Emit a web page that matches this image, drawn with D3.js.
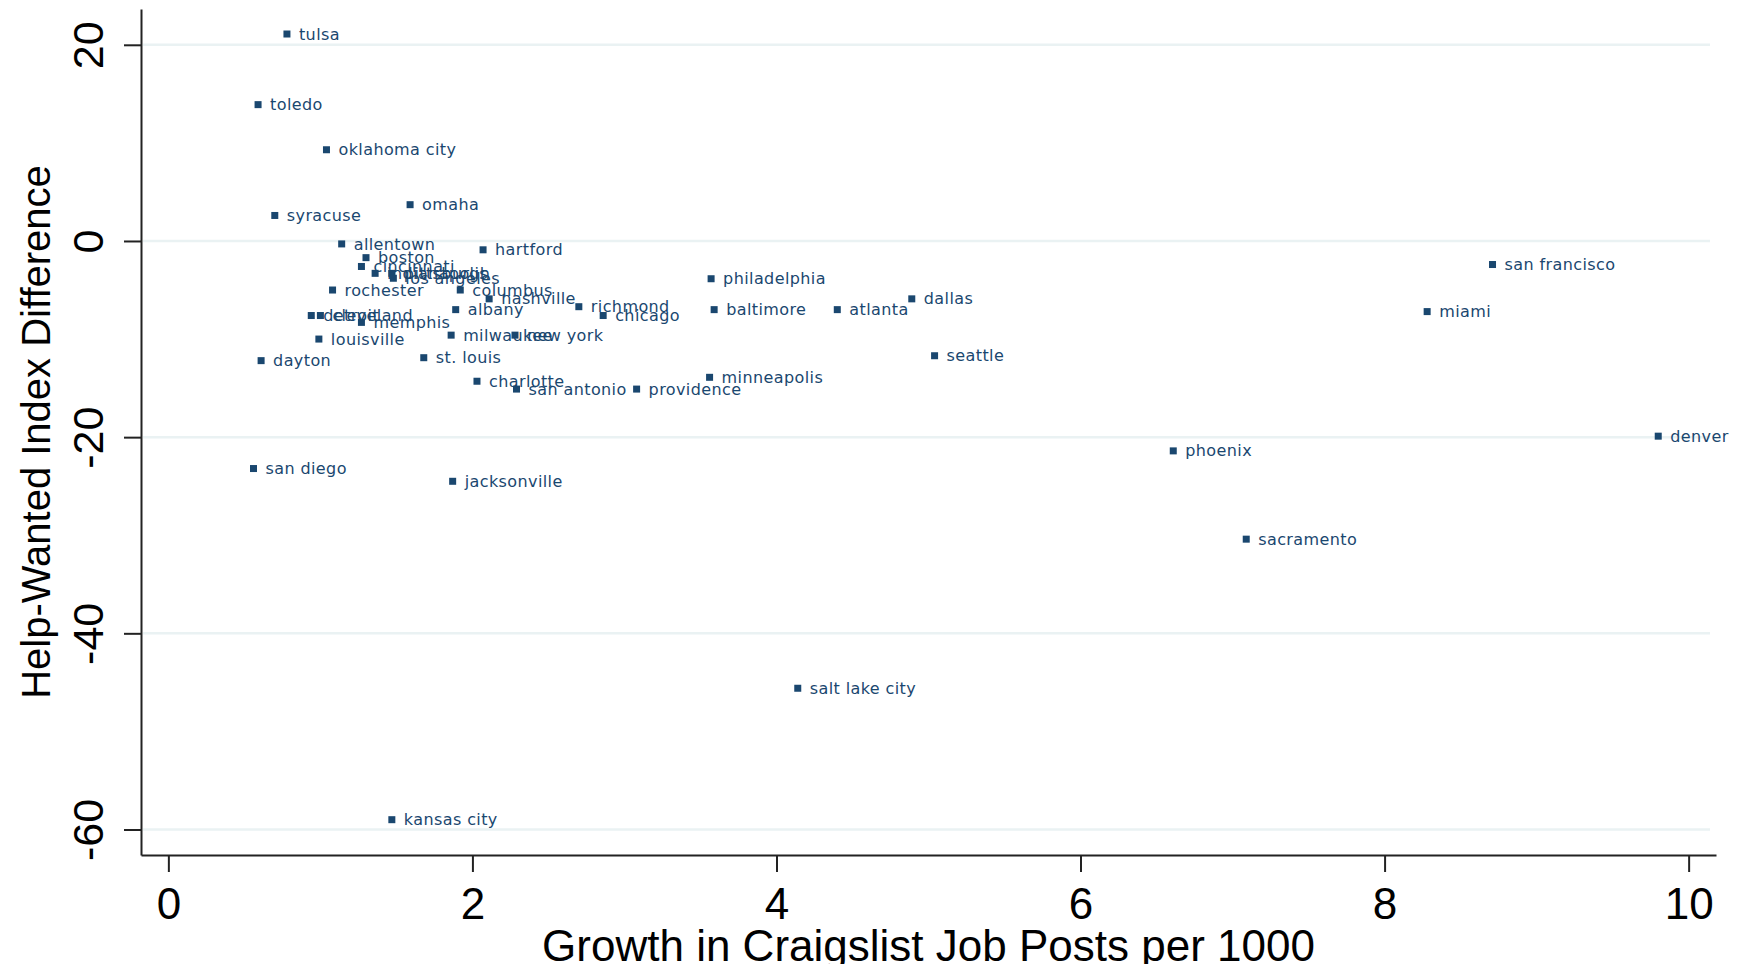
<!DOCTYPE html>
<html>
<head>
<meta charset="utf-8">
<script src="https://cdn.jsdelivr.net/npm/d3@7"></script>
<style>
  body { margin: 0; background: #fff; }
  svg { display: block; }
</style>
</head>
<body>
<div class="drawingboard"></div>
<script>
// city names, x = growth in craigslist posts, y = help-wanted index difference
var cities = ["tulsa", "toledo", "oklahoma city", "syracuse", "omaha", "allentown", "hartford",
  "boston", "cincinnati", "indianapolis", "pittsburgh", "los angeles", "philadelphia", "san francisco",
  "rochester", "columbus", "nashville", "richmond", "chicago", "dallas", "baltimore", "atlanta",
  "miami", "albany", "detroit", "cleveland", "memphis", "louisville", "milwaukee", "new york",
  "st. louis", "seattle", "dayton", "charlotte", "san antonio", "providence", "minneapolis",
  "phoenix", "denver", "san diego", "jacksonville", "sacramento", "salt lake city", "kansas city"];
var growth = [0.78, 0.59, 1.04, 0.70, 1.59, 1.14, 2.07,
  1.30, 1.27, 1.36, 1.47, 1.48, 3.57, 8.71,
  1.08, 1.92, 2.11, 2.70, 2.86, 4.89, 3.59, 4.40,
  8.28, 1.89, 0.94, 1.00, 1.27, 0.99, 1.86, 2.28,
  1.68, 5.04, 0.61, 2.03, 2.29, 3.08, 3.56,
  6.61, 9.80, 0.56, 1.87, 7.09, 4.14, 1.47];
var hwiDiff = [21.1, 13.9, 9.3, 2.6, 3.7, -0.3, -0.9,
  -1.7, -2.6, -3.3, -3.3, -3.8, -3.85, -2.4,
  -5.0, -5.0, -5.9, -6.7, -7.6, -5.9, -7.0, -7.0,
  -7.2, -7.0, -7.6, -7.6, -8.3, -10.0, -9.6, -9.6,
  -11.9, -11.7, -12.2, -14.3, -15.1, -15.1, -13.9,
  -21.4, -19.9, -23.2, -24.5, -30.4, -45.6, -59.0];
var xTicks = [0, 2, 4, 6, 8, 10];
var yTicks = [20, 0, -20, -40, -60];

var width = 1742, height = 964;
var plotLeft = 141, plotRight = 1716, plotTop = 9, plotBottom = 855;
var navy = "#1a476f";

var data = cities.map(function (c, i) { return { name: c, x: growth[i], y: hwiDiff[i] }; });

var svg = d3.select(".drawingboard").append("svg")
  .attr("width", width)
  .attr("height", height);

var x = d3.scaleLinear().domain([-0.18, 10.18]).range([plotLeft, plotRight]);
var y = d3.scaleLinear().domain([-62.6, 23.65]).range([plotBottom, plotTop]);
var fmt = function (d) { return String(d); }; // plain hyphen minus like the original

// grid lines
svg.append("g").selectAll("line")
  .data(yTicks)
  .enter().append("line")
  .attr("x1", plotLeft + 2).attr("x2", plotRight - 6)
  .attr("y1", function (d) { return y(d); })
  .attr("y2", function (d) { return y(d); })
  .style("stroke", "#eaf2f3")
  .style("stroke-width", 2.5);

// axes
var xAxis = svg.append("g")
  .attr("transform", "translate(0," + plotBottom + ")")
  .call(d3.axisBottom(x).tickValues(xTicks).tickFormat(fmt).tickSize(17).tickPadding(16).tickSizeOuter(0));
var yAxis = svg.append("g")
  .attr("transform", "translate(" + plotLeft + ",0)")
  .call(d3.axisLeft(y).tickValues(yTicks).tickFormat(fmt).tickSize(17).tickPadding(0).tickSizeOuter(0));

[xAxis, yAxis].forEach(function (a) {
  a.select(".domain").style("stroke", "#222").style("stroke-width", 2);
  a.selectAll(".tick line").style("stroke", "#222").style("stroke-width", 2);
  a.selectAll("text").style("font-family", "Arial, 'Liberation Sans', sans-serif")
    .style("fill", "#000");
});
xAxis.selectAll("text").style("font-size", "44px");
yAxis.selectAll("text")
  .style("font-size", "43px")
  .attr("text-anchor", "middle")
  .attr("x", null).attr("dy", null)
  .attr("transform", "translate(-38,0) rotate(-90)");

// axis titles
svg.append("text")
  .attr("x", (plotLeft + plotRight) / 2)
  .attr("y", 961)
  .attr("text-anchor", "middle")
  .style("font-family", "Arial, 'Liberation Sans', sans-serif")
  .style("font-size", "44px")
  .text("Growth in Craigslist Job Posts per 1000");

svg.append("text")
  .attr("transform", "translate(50," + (plotTop + plotBottom) / 2 + ") rotate(-90)")
  .attr("text-anchor", "middle")
  .style("font-family", "Arial, 'Liberation Sans', sans-serif")
  .style("font-size", "40px")
  .text("Help-Wanted Index Difference");

// points
var node = svg.append("g").selectAll("g")
  .data(data)
  .enter().append("g")
  .attr("transform", function (d) { return "translate(" + x(d.x) + "," + y(d.y) + ")"; });

node.append("rect")
  .attr("x", -3.5).attr("y", -3.5)
  .attr("width", 7).attr("height", 7)
  .style("fill", navy);

node.append("text")
  .attr("x", 12)
  .attr("dy", "0.35em")
  .style("font-family", "'DejaVu Sans', Verdana, sans-serif")
  .style("font-size", "16px")
  .style("letter-spacing", "0.4px")
  .style("fill", navy)
  .text(function (d) { return d.name; });
</script>
</body>
</html>
